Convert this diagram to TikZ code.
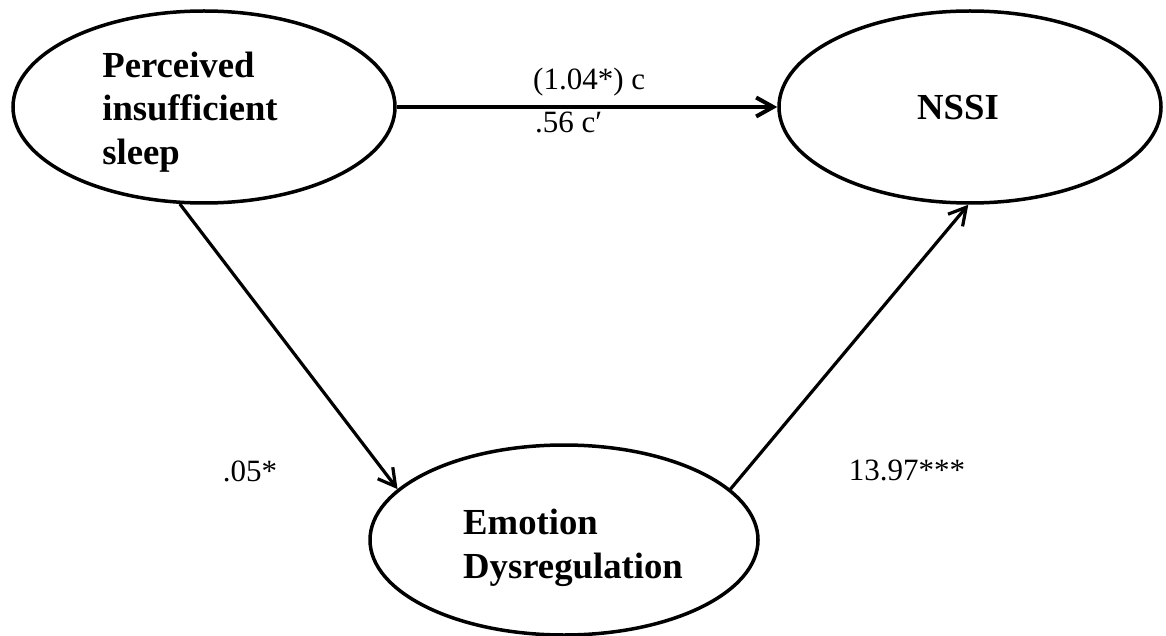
\documentclass[tikz,border=0pt]{standalone}
\usepackage{fontspec}
\setmainfont{Liberation Serif}
\usetikzlibrary{shapes.geometric,arrows.meta}

\begin{document}
\begin{tikzpicture}[x=1pt,y=-1pt,
  latent/.style={draw,ellipse,line width=3.5pt,minimum width=382pt,minimum height=192pt,inner sep=0pt},
  varname/.style={font=\bfseries\fontsize{36.7}{43.5}\selectfont,align=left,inner sep=0pt},
  coef/.style={font=\fontsize{31}{36}\selectfont,inner sep=0pt},
  effect/.style={line width=3.2pt,-{Straight Barb[length=17pt,width=19pt]}}]
\useasboundingbox (0,0) rectangle (1166,636);
% latent variables
\node[latent] (perc) at (204,107) {};
\node[latent] (nssi) at (970,107) {};
\node[latent,minimum width=388pt,minimum height=190pt] (emot) at (564,540) {};
\node[varname] (perc-t) at (190,112) {Perceived\\insufficient\\sleep};
\node[varname] (nssi-t) at (958,108) {NSSI};
\node[varname] (emot-t) at (573,548) {Emotion\\Dysregulation};
% paths
\draw[effect,line width=4pt] (perc.east) -- (nssi.west);
\draw[effect] (perc.-104) -- (emot.163);
\draw[effect] (emot.17) -- (nssi.-91);
% coefficients
\node[coef,anchor=west] (c-tot) at (533,82) {(1.04*) c};
\node[coef,anchor=west] (c-dir) at (535,122) {.56 c′};
\node[coef] (a-path) at (250,471) {.05*};
\node[coef] (b-path) at (907,470) {13.97***};
\end{tikzpicture}
\end{document}
